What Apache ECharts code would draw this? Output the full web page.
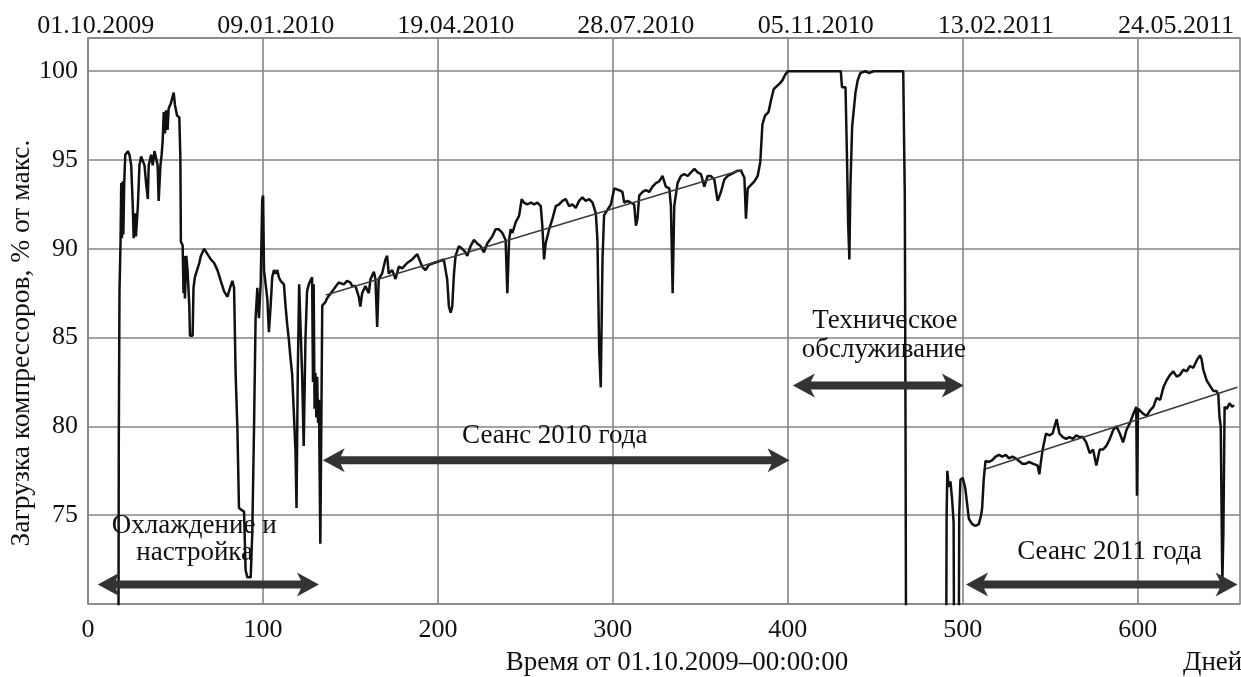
<!DOCTYPE html>
<html>
<head>
<meta charset="utf-8">
<script src="https://cdn.jsdelivr.net/npm/echarts/dist/echarts.min.js"></script>
<style>
  html, body { margin: 0; padding: 0; background: #fff; }
  #chart { width: 1241px; height: 677px; }
</style>
</head>
<body>
<div id="chart"></div>
<script>
// ---------- DATA ----------
const bottomTicks = [0, 100, 200, 300, 400, 500, 600];
const topDates = ['01.10.2009', '09.01.2010', '19.04.2010', '28.07.2010', '05.11.2010', '13.02.2011', '24.05.2011'];
const yTicks = [75, 80, 85, 90, 95, 100];

// [day, load %]  (values below 70 are off the chart)
const cooling = [
  [17.3, 60], [17.6, 79.2], [18.0, 87.6], [18.6, 90.4], [19.0, 93.7], [19.4, 90.6], [19.8, 93.8], [20.2, 90.8],
  [20.7, 93.7], [21.3, 95.3], [22.8, 95.5], [23.7, 95.3], [24.7, 94.7], [25.6, 92.4], [26.1, 90.6], [26.8, 92.0],
  [27.4, 90.7], [28.5, 92.4], [29.4, 94.7], [30.4, 95.2], [31.3, 95.3], [32.3, 94.7], [33.2, 93.7], [34.2, 92.8],
  [34.7, 94.7], [36.1, 95.3], [37.0, 94.7], [38.0, 95.5], [38.9, 95.6], [39.8, 94.7], [40.4, 92.7], [41.4, 94.7],
  [42.1, 95.3], [42.7, 96.1], [43.3, 97.7], [44.0, 96.5], [44.6, 97.8], [45.5, 96.7], [46.1, 97.9], [47.4, 98.2],
  [48.4, 98.3], [49.0, 98.8], [49.7, 98.1], [50.9, 97.5], [52.2, 97.4], [52.8, 95.1], [53.1, 90.4], [54.1, 90.2],
  [54.6, 87.5], [55.0, 89.6], [55.4, 87.2], [56.2, 89.6], [56.9, 88.8], [57.9, 86.8], [58.3, 85.1], [59.8, 85.1],
  [60.3, 87.8], [61.1, 88.4], [62.2, 88.4], [63.6, 89.2], [64.5, 89.6], [66.4, 90.0], [68.3, 89.7], [70.2, 89.4],
  [72.1, 89.2], [74.0, 88.8], [75.9, 88.2], [77.8, 87.6], [79.7, 87.3], [81.2, 87.8], [82.5, 88.2], [83.5, 87.8],
  [84.4, 82.9], [85.4, 79.9], [86.3, 75.4], [87.7, 75.3], [89.2, 75.2], [90.1, 71.9], [91.1, 71.5], [93.0, 71.5],
  [93.9, 74.0], [94.9, 79.9], [95.8, 86.1], [96.8, 87.8], [97.7, 86.1], [98.7, 88.0], [99.6, 92.8], [100.1, 93.0],
  [100.6, 88.8], [101.5, 88.8], [102.5, 87.2], [103.4, 85.3], [104.4, 86.8], [105.3, 88.4], [106.3, 88.8], [107.2, 88.6],
  [108.2, 88.8], [109.1, 88.4], [110.1, 88.2], [112.0, 88.0], [112.9, 86.8], [113.9, 85.7], [114.8, 84.9], [115.7, 83.9],
  [116.7, 82.9], [117.6, 80.9], [118.6, 78.6], [119.2, 75.4], [119.9, 82.9], [120.7, 88.0], [121.4, 88.0], [122.4, 82.9],
  [123.3, 78.9], [124.3, 84.9], [125.2, 87.6], [126.2, 88.0], [127.1, 88.2], [128.1, 88.4], [128.6, 82.5], [129.0, 88.0],
  [129.5, 81.0], [130.0, 83.0], [130.5, 80.5], [131.0, 82.8], [131.5, 80.2], [132.0, 81.5], [132.8, 73.4], [133.4, 80.5],
  [133.9, 86.8], [134.7, 86.9], [135.7, 87.0], [136.6, 87.2]
];

const season2010 = [
  [137.6, 87.1], [139.5, 87.6], [143.3, 88.1], [146.2, 88.0], [148.1, 88.2], [150.0, 88.1], [151.0, 87.9], [152.9, 87.9],
  [154.8, 87.3], [155.7, 86.75], [156.7, 87.5], [158.6, 87.9], [160.5, 87.5], [161.5, 88.3], [163.4, 88.7], [164.3, 88.3],
  [165.3, 85.6], [166.2, 88.3], [168.1, 88.6], [170.0, 89.4], [171.0, 89.6], [171.9, 88.6], [173.9, 88.8], [175.8, 88.3],
  [177.7, 89.0], [179.6, 88.9], [182.4, 89.2], [185.3, 89.4], [188.2, 89.7], [189.1, 89.6], [191.0, 89.0], [192.9, 88.8],
  [194.9, 89.1], [197.7, 89.2], [200.6, 89.3], [203.4, 89.4], [204.4, 88.8], [205.3, 88.3], [206.3, 86.75], [207.3, 86.4],
  [208.2, 86.75], [209.2, 88.6], [210.1, 89.6], [212.0, 90.15], [213.9, 90.0], [215.8, 89.8], [216.8, 89.6], [218.7, 90.15],
  [220.6, 90.5], [222.5, 90.3], [224.4, 90.15], [226.3, 89.8], [228.2, 90.3], [231.1, 90.7], [233.0, 91.1], [234.9, 91.1],
  [236.8, 90.9], [238.7, 90.5], [239.7, 87.5], [240.7, 90.5], [241.6, 91.1], [242.6, 90.9], [244.5, 91.5], [246.4, 91.85],
  [247.9, 92.8], [249.2, 92.6], [251.1, 92.5], [253.1, 92.6], [255.0, 92.5], [256.9, 92.6], [258.8, 92.4], [259.7, 91.3],
  [260.7, 89.4], [261.6, 90.3], [263.6, 91.1], [265.5, 91.7], [267.4, 92.4], [269.3, 92.5], [271.2, 92.7], [273.1, 92.8],
  [275.0, 92.4], [276.9, 92.5], [278.8, 92.3], [280.7, 92.7], [282.6, 92.9], [284.5, 92.7], [286.5, 92.8], [288.4, 92.6],
  [290.3, 92.0], [291.2, 90.5], [292.2, 84.3], [293.1, 82.2], [294.1, 89.4], [295.0, 91.9], [297.0, 92.2], [298.9, 92.5],
  [300.8, 93.4], [303.6, 93.3], [305.5, 93.2], [306.5, 92.6], [308.4, 92.7], [310.3, 92.6], [312.2, 92.5], [313.2, 91.3],
  [314.1, 91.7], [315.1, 93.0], [317.0, 93.2], [318.9, 93.3], [320.8, 93.2], [322.7, 93.5], [324.6, 93.7], [326.5, 93.8],
  [328.4, 94.1], [330.3, 93.5], [332.3, 93.4], [333.2, 92.4], [334.2, 87.5], [335.1, 92.4], [337.0, 93.7], [338.9, 94.1],
  [340.8, 94.2], [342.8, 94.1], [344.7, 94.3], [346.6, 94.5], [348.5, 94.3], [350.4, 94.2], [352.3, 93.5], [354.2, 94.1],
  [356.1, 94.1], [358.0, 93.9], [359.9, 92.7], [361.8, 93.2], [363.7, 93.9], [365.7, 94.1], [367.6, 94.2], [369.5, 94.3],
  [371.4, 94.4], [373.3, 94.4], [375.2, 94.0], [376.1, 91.7], [377.1, 93.4], [379.0, 93.6], [380.9, 93.8], [382.8, 94.1],
  [384.3, 94.9], [385.5, 97.0], [387.0, 97.5], [389.0, 97.7], [390.5, 98.4], [392.0, 99.0], [395.3, 99.3], [397.0, 99.5],
  [398.5, 99.8], [400.0, 100]
];

const maintenance = [
  [430.3, 100], [431.0, 99.1], [433.0, 99.1], [433.9, 94.9], [434.5, 91.5], [435.2, 89.4], [435.8, 93.5], [436.8, 96.9],
  [438.7, 98.8], [440.0, 99.5], [441.5, 99.9], [444.4, 100], [446.3, 99.9], [449.1, 100], [466.0, 100], [466.5, 96.0],
  [466.9, 92.9], [467.3, 80.4], [467.8, 60], [490.3, 60]
];

const season2011 = [
  [490.8, 75.0], [491.2, 77.5], [492.0, 76.6], [493.0, 76.9], [494.0, 75.8], [494.8, 74.6], [495.3, 60], [497.5, 60],
  [498.0, 75.0], [498.7, 77.0], [500.0, 77.1], [501.5, 76.5], [503.5, 74.8], [505.4, 74.5], [507.3, 74.4], [509.2, 74.5],
  [510.5, 75.0], [511.1, 75.4], [512.0, 77.0], [513.0, 78.05], [515.0, 78.0], [516.9, 78.1], [518.8, 78.3], [520.7, 78.4],
  [522.6, 78.3], [524.6, 78.4], [526.5, 78.2], [528.4, 78.3], [530.3, 78.2], [532.2, 78.05], [534.1, 77.9], [536.1, 77.9],
  [538.0, 78.0], [540.0, 77.9], [542.8, 77.8], [543.8, 77.3], [544.7, 78.0], [545.7, 78.7], [547.6, 79.6], [549.5, 79.5],
  [551.4, 79.6], [552.5, 80.0], [553.7, 80.4], [554.5, 80.0], [555.3, 79.6], [557.2, 79.4], [559.1, 79.3], [561.0, 79.4],
  [563.0, 79.3], [564.9, 79.5], [566.8, 79.4], [568.7, 79.4], [570.6, 79.1], [572.6, 78.5], [574.5, 78.7], [576.4, 77.8],
  [578.3, 78.7], [580.2, 78.7], [582.1, 78.9], [584.1, 79.3], [586.0, 79.8], [587.9, 80.0], [589.8, 79.6], [591.7, 79.1],
  [593.6, 79.8], [595.6, 80.2], [597.5, 80.7], [599.2, 81.1], [599.6, 76.1], [600.2, 81.0], [601.3, 80.9], [603.2, 80.7],
  [605.2, 80.6], [607.1, 80.9], [609.0, 81.1], [610.8, 81.6], [612.9, 81.5], [614.7, 82.2], [616.6, 82.6], [618.5, 82.9],
  [620.4, 83.1], [622.3, 82.8], [624.2, 82.9], [626.1, 83.2], [628.0, 83.1], [629.9, 83.4], [631.8, 83.3], [633.7, 83.7],
  [635.6, 84.0], [636.5, 83.8], [637.5, 83.2], [639.4, 82.6], [641.3, 82.3], [643.2, 82.0], [645.0, 82.0], [646.1, 81.8],
  [646.8, 80.5], [647.5, 80.0], [648.0, 75.0], [648.4, 71.2], [649.0, 74.0], [649.7, 81.1], [651.0, 81.0], [652.5, 81.3],
  [654.0, 81.1], [655.1, 81.2]
];

const trend2010 = [[136.0, 87.4], [374.0, 94.45]];
const trend2011 = [[513.0, 77.6], [657.0, 82.2]];

// double arrows: [day of left tip, day of right tip, level]
const arrows = [
  [5.6, 132.0, 71.1],
  [134.2, 401.0, 78.1],
  [402.9, 500.6, 82.3],
  [501.9, 657.1, 71.1]
];

// annotation texts: [text, day (centre), level (centre)]
const notes = [
  ['Охлаждение и', 60.7, 74.41],
  ['настройка', 61.0, 72.9],
  ['Сеанс 2010 года', 266.8, 79.48],
  ['Техническое', 455.5, 85.95],
  ['обслуживание', 454.9, 84.32],
  ['Сеанс 2011 года', 583.9, 72.96]
];

const yTitle = 'Загрузка компрессоров, % от макс.';
const xTitle = 'Время от 01.10.2009\u201300:00:00';
const xUnit = 'Дней';

// ---------- CHART ----------
const FONT = 'Liberation Serif';
const FS = 26;
const FS_TXT = 27;
const GRID_C = '#858585';
const chart = echarts.init(document.getElementById('chart'), null, { renderer: 'canvas' });

const load = cooling.concat(season2010, [[400, 100]], maintenance, season2011);

function renderArrow(params, api) {
  const a = api.coord([api.value(0), api.value(2)]);
  const b = api.coord([api.value(1), api.value(2)]);
  const L = 22, H = 12, t = 4, n = 4;
  const y = a[1], xa = a[0], xb = b[0];
  return {
    type: 'polygon',
    shape: {
      points: [
        [xa, y], [xa + L, y - H], [xa + L - n, y - t], [xb - L + n, y - t], [xb - L, y - H],
        [xb, y], [xb - L, y + H], [xb - L + n, y + t], [xa + L - n, y + t], [xa + L, y + H]
      ]
    },
    style: { fill: '#333', stroke: null }
  };
}

const option = {
  animation: false,
  backgroundColor: '#fff',
  textStyle: { fontFamily: FONT, color: '#111' },
  grid: { left: 88, right: 1, top: 38, bottom: 73, containLabel: false },
  xAxis: [
    {
      type: 'value', position: 'bottom', min: 0, max: 658.5, interval: 100,
      axisLine: { show: true, lineStyle: { color: GRID_C, width: 1.6 } },
      axisTick: { show: false },
      splitLine: { show: true, lineStyle: { color: GRID_C, width: 1.6 } },
      axisLabel: {
        fontFamily: FONT, fontSize: FS, color: '#111', margin: 13,
        showMaxLabel: false,
        formatter: v => (bottomTicks.indexOf(v) >= 0 ? String(v) : '')
      }
    },
    {
      type: 'value', position: 'top', min: -4.28, max: 635.6,
      axisLine: { show: true, onZero: false, lineStyle: { color: GRID_C, width: 1.6 } },
      axisTick: { show: false },
      splitLine: { show: false },
      axisLabel: {
        fontFamily: FONT, fontSize: FS, color: '#111', margin: -1,
        customValues: bottomTicks,
        formatter: v => { const i = bottomTicks.indexOf(v); return i >= 0 ? topDates[i] : ''; }
      }
    }
  ],
  yAxis: {
    type: 'value', min: 70, max: 101.87, interval: 5,
    axisLine: { show: true, lineStyle: { color: GRID_C, width: 1.6 } },
    axisTick: { show: false },
    splitLine: { show: true, lineStyle: { color: GRID_C, width: 1.6 } },
    axisLabel: {
      fontFamily: FONT, fontSize: FS, color: '#111', margin: 10,
      showMinLabel: false, showMaxLabel: false,
      formatter: v => (yTicks.indexOf(v) >= 0 ? String(v) : '')
    }
  },
  series: [
    {
      name: 'load', type: 'line', data: load, showSymbol: false, symbol: 'none',
      lineStyle: { color: '#111', width: 2.5 }, clip: true, z: 5
    },
    {
      name: 'trend2010', type: 'line', data: trend2010, showSymbol: false, symbol: 'none',
      lineStyle: { color: '#3a3a3a', width: 1.5 }, z: 6
    },
    {
      name: 'trend2011', type: 'line', data: trend2011, showSymbol: false, symbol: 'none',
      lineStyle: { color: '#3a3a3a', width: 1.5 }, z: 6
    },
    {
      name: 'arrows', type: 'custom', data: arrows, z: 7, silent: true,
      encode: { x: [0, 1], y: 2 },
      renderItem: renderArrow
    }
  ]
};
chart.setOption(option);

const textFont = FS_TXT + 'px "' + FONT + '"';
const textEls = notes.map(n => {
  const p = chart.convertToPixel({ seriesIndex: 0 }, [n[1], n[2]]);
  return {
    type: 'text', x: p[0], y: p[1], z: 100,
    style: { text: n[0], font: textFont, fill: '#111', align: 'center', verticalAlign: 'middle' }
  };
});
textEls.push({
  type: 'text', x: 22, y: 343, rotation: Math.PI / 2, z: 100,
  style: { text: yTitle, font: '27.5px "' + FONT + '"', fill: '#111', align: 'center', verticalAlign: 'middle' }
});
textEls.push({
  type: 'text', x: 677, y: 663, z: 100,
  style: { text: xTitle, font: textFont, fill: '#111', align: 'center', verticalAlign: 'middle' }
});
textEls.push({
  type: 'text', x: 1183, y: 663, z: 100,
  style: { text: xUnit, font: textFont, fill: '#111', align: 'left', verticalAlign: 'middle' }
});
chart.setOption({ graphic: { elements: textEls } });
</script>
</body>
</html>
